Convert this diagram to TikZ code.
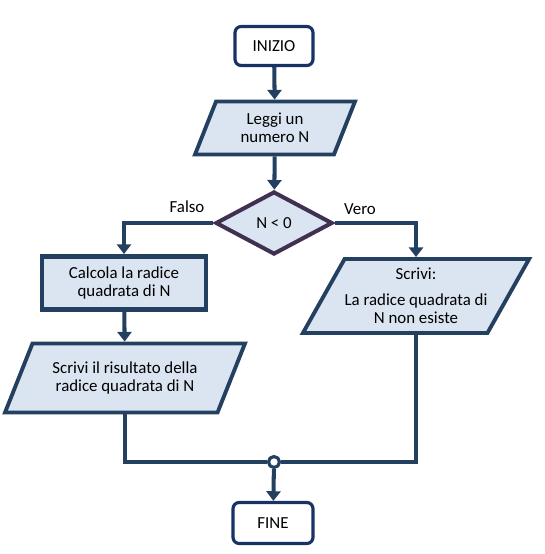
\documentclass[tikz,border=0pt]{standalone}
\usepackage{fontspec}
\setmainfont{Carlito}
\usetikzlibrary{shapes.geometric,arrows.meta}

\begin{document}
\begin{tikzpicture}[x=0.02cm, y=-0.02cm, every node/.style={font=\fontsize{9.6}{10.4}\selectfont, text=black}, flow/.style={line width=2.3pt, fcLine}, arr/.style={flow, -{Triangle[width=8pt, length=5.5pt]}}, term/.style={draw=fcTerm, line width=1.8pt, rounded corners=3.5pt, fill=white, minimum width=1.56cm, minimum height=0.78cm}, io/.style={trapezium, trapezium stretches body, draw=fcLine, line width=2.2pt, fill=fcFill, inner sep=0pt, align=center}, proc/.style={draw=fcLine, line width=2.8pt, fill=fcFill, minimum width=3.28cm, minimum height=1.06cm, align=center}, test/.style={diamond, draw=fcTest, line width=2.3pt, fill=fcFill, inner sep=0pt, minimum width=2.34cm, minimum height=1.26cm}, joint/.style={circle, draw=fcLine, line width=1.8pt, fill=white, inner sep=0pt, minimum size=0.22cm}]
\definecolor{fcLine}{RGB}{36,64,97}
\definecolor{fcTerm}{RGB}{24,50,102}
\definecolor{fcTest}{RGB}{64,49,82}
\definecolor{fcFill}{RGB}{219,229,241}
\useasboundingbox (0,0) rectangle (544,554);
% blocchi
\node[term] (start) at (274,46) {INIZIO};
\node[io, trapezium left angle=55, trapezium right angle=125, minimum width=3.2cm, minimum height=1.06cm] (read) at (275,128) {Leggi un\\numero N};
\node[test] (check) at (274,223) {N < 0};
\node[proc] (calc) at (124,283) {Calcola la radice\\quadrata di N};
\node[io, trapezium left angle=50, trapezium right angle=130, minimum width=4.8cm, minimum height=1.38cm] (res) at (125,378) {Scrivi il risultato della\\radice quadrata di N};
\node[io, trapezium left angle=53, trapezium right angle=127, minimum width=4.36cm, minimum height=1.48cm] (msg) at (416,296) {Scrivi:\\[4pt]La radice quadrata di\\N non esiste};
\node[joint] (join) at (274,462) {};
\node[term, minimum width=1.6cm, minimum height=0.82cm] (stop) at (273,523) {FINE};
% etichette
\node (no) at (187,207) {Falso};
\node (yes) at (360,209) {Vero};
% collegamenti
\draw[arr] (start) -- (read);
\draw[arr] (read) -- (check);
\draw[arr] (check.west) -| (calc.north);
\draw[arr] (check.east) -| (msg.north);
\draw[arr] (calc) -- (res);
\draw[flow] (res.south) |- (join);
\draw[flow] (msg.south) |- (join);
\draw[arr] (join) -- (stop);
\end{tikzpicture}
\end{document}
